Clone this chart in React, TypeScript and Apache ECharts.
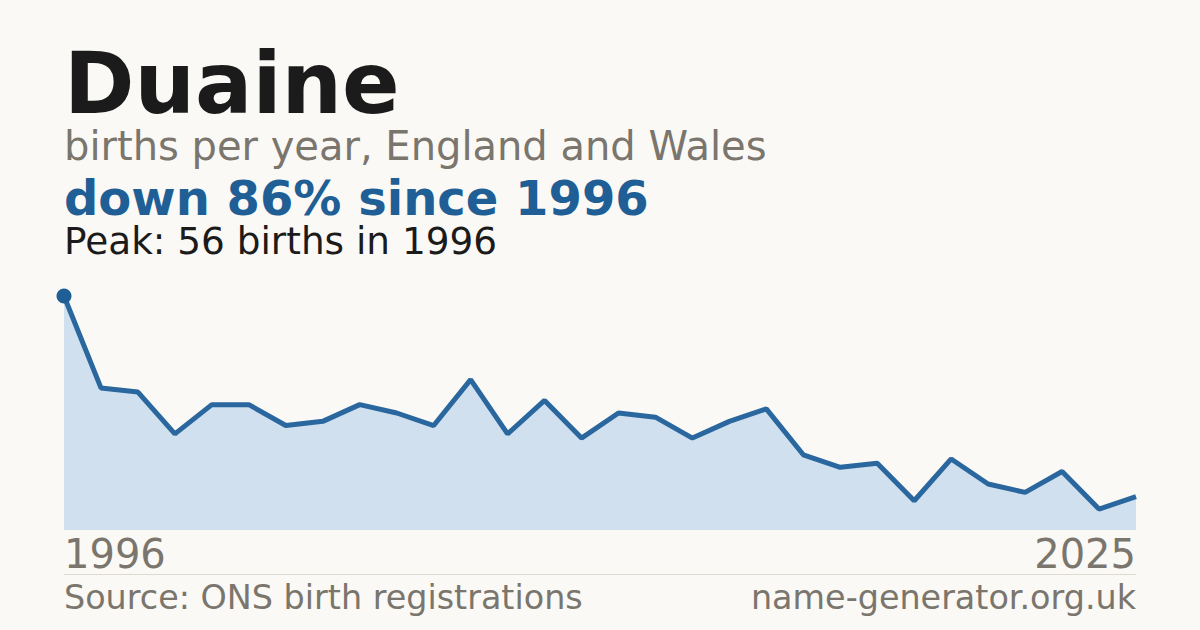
import { useEffect, useRef } from 'react';
import * as echarts from 'echarts';

const years = [
  '1996', '1997', '1998', '1999', '2000', '2001', '2002', '2003', '2004', '2005',
  '2006', '2007', '2008', '2009', '2010', '2011', '2012', '2013', '2014', '2015',
  '2016', '2017', '2018', '2019', '2020', '2021', '2022', '2023', '2024', '2025',
];
const births = [
  56, 34, 33, 23, 30, 30, 25, 26, 30, 28,
  25, 36, 23, 31, 22, 28, 27, 22, 26, 29,
  18, 15, 16, 7, 17, 11, 9, 14, 5, 8,
];
const babyName = 'Duaine';
const subtitle = 'births per year, England and Wales';
const headline = 'down 86% since 1996';
const peakNote = 'Peak: 56 births in 1996';
const sourceNote = 'Source: ONS birth registrations';
const siteNote = 'name-generator.org.uk';

const FONT = '"DejaVu Sans", sans-serif';
const GREY = '#7a756d';
const BLUE = '#1f5f96';

const App = () => {
  const chartRef = useRef<HTMLDivElement>(null);

  useEffect(() => {
    if (!chartRef.current) return;
    const chart = echarts.init(chartRef.current, null, { renderer: 'svg' });
    const last = years.length - 1;

    const option = {
      animation: false,
      backgroundColor: '#faf9f5',
      textStyle: { fontFamily: FONT },
      grid: { left: 64, right: 64, top: 296, bottom: 100 },
      xAxis: {
        type: 'category',
        data: years,
        boundaryGap: false,
        axisLine: { show: false },
        axisTick: { show: false },
        splitLine: { show: false },
        axisLabel: {
          interval: (i: number) => i === 0 || i === last,
          alignMinLabel: 'left',
          alignMaxLabel: 'right',
          color: GREY,
          fontSize: 40,
          fontFamily: FONT,
          margin: 4,
        },
      },
      yAxis: {
        type: 'value',
        min: 0,
        max: 56,
        show: false,
      },
      series: [
        {
          type: 'line',
          data: births,
          clip: false,
          symbol: (_v: number, p: { dataIndex: number }) => (p.dataIndex === 0 ? 'circle' : 'none'),
          symbolSize: 15,
          showSymbol: true,
          itemStyle: { color: BLUE, borderWidth: 0 },
          lineStyle: { color: '#2a679e', width: 5 },
          areaStyle: { color: '#d0e0ef', opacity: 1 },
        },
      ],
      graphic: [
        {
          type: 'text', left: 64, top: 41,
          style: { text: babyName, font: `bold 85px ${FONT}`, fill: '#1b1b1b' },
        },
        {
          type: 'text', left: 64, top: 126,
          style: { text: subtitle, font: `40px ${FONT}`, fill: GREY },
        },
        {
          type: 'text', left: 64, top: 174,
          style: { text: headline, font: `bold 48px ${FONT}`, fill: BLUE },
        },
        {
          type: 'text', left: 64, top: 222,
          style: { text: peakNote, font: `37.4px ${FONT}`, fill: '#1b1b1b' },
        },
        {
          type: 'line',
          shape: { x1: 64, y1: 574.5, x2: 1136, y2: 574.5 },
          style: { stroke: '#dedad2', lineWidth: 1 },
        },
        {
          type: 'text', left: 64, top: 581,
          style: { text: sourceNote, font: `33.4px ${FONT}`, fill: GREY },
        },
        {
          type: 'text', right: 64, top: 581,
          style: { text: siteNote, font: `33.4px ${FONT}`, fill: GREY },
        },
      ],
    };

    chart.setOption(option);
    return () => chart.dispose();
  }, []);

  return (
    <div
      ref={chartRef}
      style={{ position: 'fixed', left: 0, top: 0, width: '1200px', height: '630px' }}
    />
  );
};

export default App;
